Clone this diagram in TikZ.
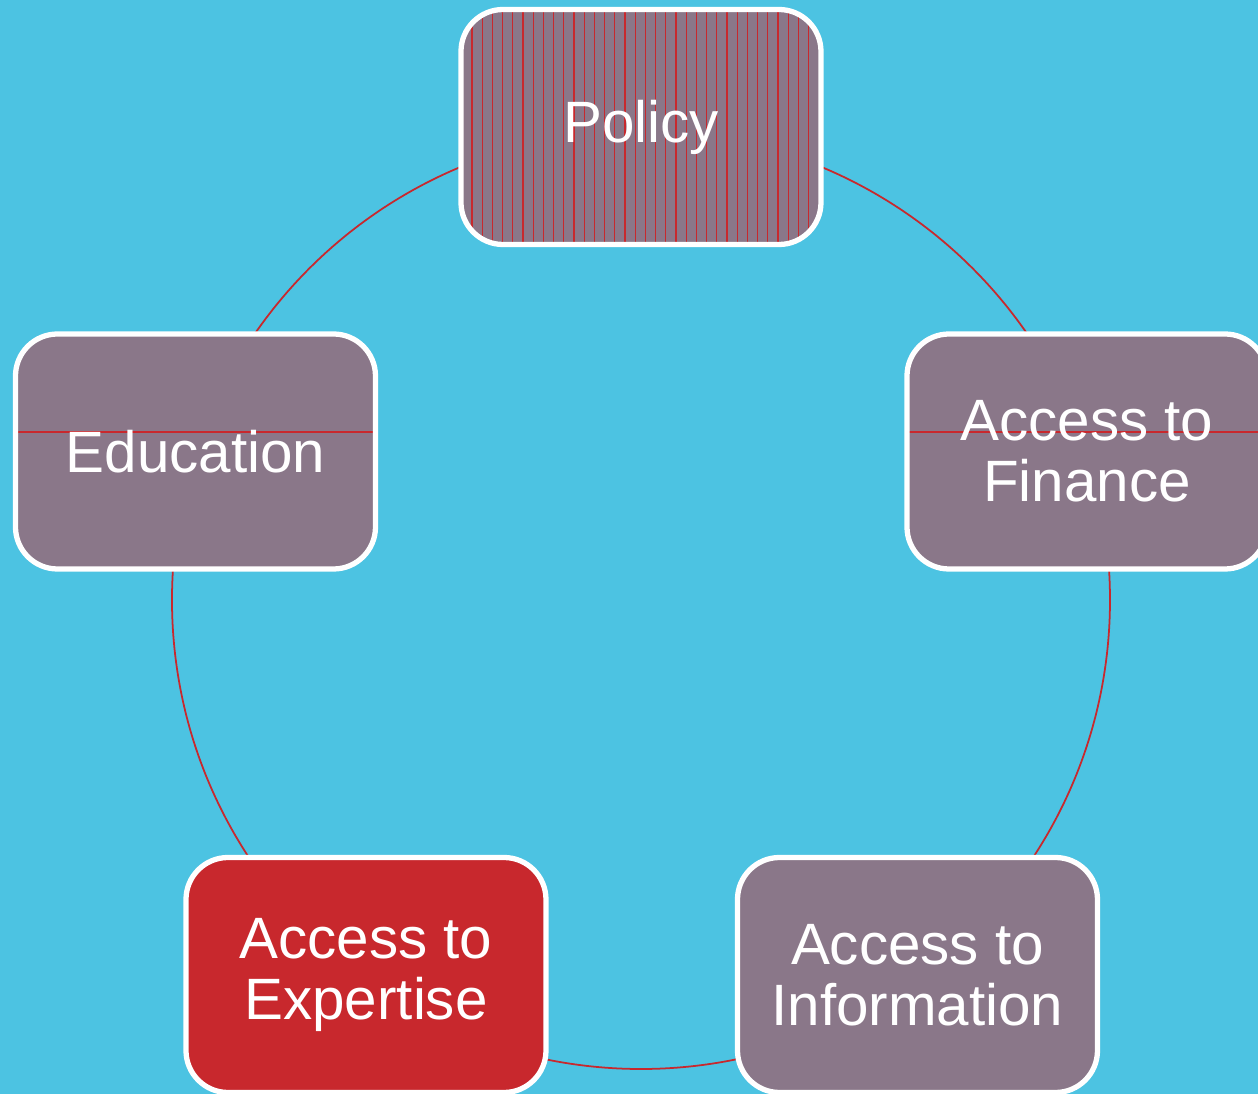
\documentclass[tikz,border=0pt]{standalone}
\usepackage{fontspec}
\setmainfont{Liberation Sans}
\usetikzlibrary{calc}

\definecolor{skyback}{HTML}{4CC3E2}
\definecolor{mauve}{HTML}{8A7789}
\definecolor{brick}{HTML}{C8282D}

\begin{document}
\begin{tikzpicture}[
    stage/.style={draw=white, line width=1.5pt, rounded corners=0.42cm,
        minimum width=3.60cm, minimum height=2.35cm, text=white,
        align=center, font=\fontsize{16.6}{17.3}\selectfont},
    hatched/.style={path picture={
        \foreach \i in {0,...,33}
            \draw[brick, line width=0.35pt]
                ([xshift={(\i*0.102-1.69)*1cm}]path picture bounding box.north) --
                ([xshift={(\i*0.102-1.69)*1cm}]path picture bounding box.south);}},
    streak/.style={path picture={
        \draw[brick, line width=0.4pt]
            ([yshift=0.195cm]path picture bounding box.west) --
            ([yshift=0.195cm]path picture bounding box.east);}}
]
    % Page with background colour
    \useasboundingbox[fill=skyback] (-6.41,-4.94) rectangle (6.17,6.00);

    % Ring through the five stages
    \coordinate (hub) at (0,0);
    \draw[brick, line width=0.5pt] (hub) circle (4.69);

    % Stages round the ring
    \node[stage, fill=mauve, hatched] (policy) at (0,4.73) {Policy};
    \node[stage, fill=mauve, streak] (finance) at (4.46,1.485) {Access to\\Finance};
    \node[stage, fill=mauve] (information) at (2.765,-3.75) {Access to\\Information};
    \node[stage, fill=brick] (expertise) at (-2.75,-3.75) {Access to\\Expertise};
    \node[stage, fill=mauve, streak] (education) at (-4.455,1.485) {Education};

\end{tikzpicture}
\end{document}
